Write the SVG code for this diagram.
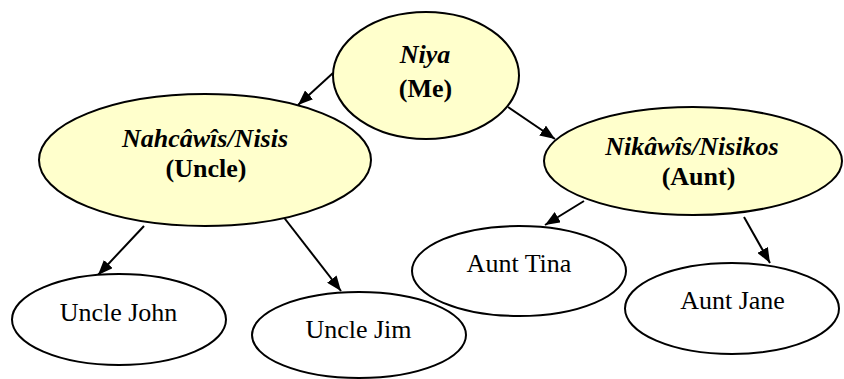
<svg xmlns="http://www.w3.org/2000/svg" width="844" height="379" viewBox="0 0 844 379">
<style>
.n{stroke:#000;stroke-width:2}
.y{fill:#FFFFCC}
.w{fill:#fff}
text{font-size:26px;fill:#000;text-anchor:middle}
.bi{font-weight:bold;font-style:italic}
.b{font-weight:bold}
.e{stroke:#000;stroke-width:2;fill:none;marker-end:url(#ah)}
</style>
<defs>
<marker id="ah" viewBox="0 0 15 12" refX="15" refY="6" markerWidth="15" markerHeight="12" markerUnits="userSpaceOnUse" orient="auto">
<path d="M0,0 L15,6 L0,12 z" fill="#000"/>
</marker>
</defs>
<rect width="844" height="379" fill="#fff"/>
<g id="connectors">
<line class="e" x1="333" y1="73" x2="298" y2="105"/>
<line class="e" x1="508" y1="107" x2="555" y2="139"/>
<line class="e" x1="144" y1="226" x2="98" y2="275"/>
<line class="e" x1="282" y1="215" x2="341" y2="291"/>
<line class="e" x1="584" y1="201" x2="545" y2="225"/>
<line class="e" x1="744" y1="217" x2="770" y2="263"/>
</g>
<g font-family="'Liberation Serif', 'Times New Roman', Tinos, 'DejaVu Serif', serif">
<g id="niya">
<ellipse class="n y" cx="426" cy="75.5" rx="93" ry="63.5"/>
<text class="bi" x="425" y="63">Niya</text>
<text class="b" x="425.5" y="97">(Me)</text>
</g>
<g id="uncle">
<ellipse class="n y" cx="205" cy="160" rx="166" ry="66"/>
<text class="bi" x="205" y="147">Nahcâwîs/Nisis</text>
<text class="b" x="206" y="177">(Uncle)</text>
</g>
<g id="aunt">
<ellipse class="n y" cx="693" cy="161" rx="149" ry="54"/>
<text class="bi" x="692" y="155">Nikâwîs/Nisikos</text>
<text class="b" x="698.5" y="185">(Aunt)</text>
</g>
<g id="uncle-john">
<ellipse class="n w" cx="119" cy="319.5" rx="107" ry="45.5"/>
<text x="118.5" y="321">Uncle John</text>
</g>
<g id="uncle-jim">
<ellipse class="n w" cx="359" cy="335" rx="107" ry="43"/>
<text x="358.5" y="338">Uncle Jim</text>
</g>
<g id="aunt-tina">
<ellipse class="n w" cx="519" cy="271" rx="107" ry="45"/>
<text x="519" y="272">Aunt Tina</text>
</g>
<g id="aunt-jane">
<ellipse class="n w" cx="732" cy="308.5" rx="107" ry="45.5"/>
<text x="732.5" y="309">Aunt Jane</text>
</g>
</g>
</svg>
